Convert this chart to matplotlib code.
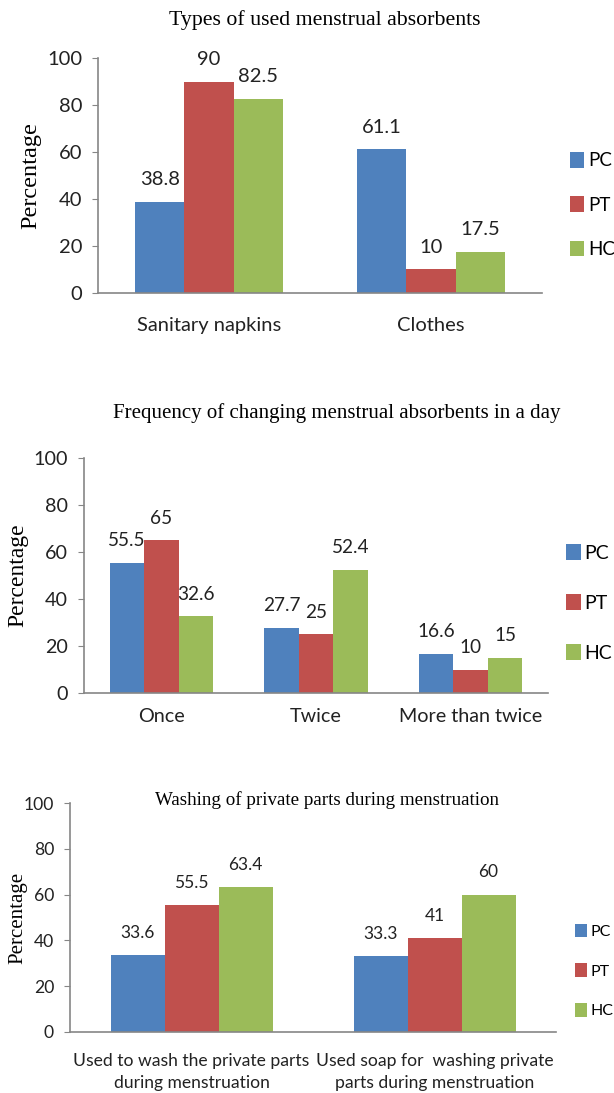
import numpy as np
import matplotlib
matplotlib.use('Agg')
import matplotlib.pyplot as plt

plt.rcParams['font.family'] = ['Lato', 'DejaVu Sans']

series = ['PC', 'PT', 'HC']
colors = ['#4F81BD', '#C0504D', '#9BBB59']

# types of absorbents
cat1 = ['Sanitary napkins', 'Clothes']
pc1 = [38.8, 61.1]
pt1 = [90, 10]
hc1 = [82.5, 17.5]

# changes per day
cat2 = ['Once', 'Twice', 'More than twice']
pc2 = [55.5, 27.7, 16.6]
pt2 = [65, 25, 10]
hc2 = [32.6, 52.4, 15]

# washing
cat3 = ['Used to wash the private parts\nduring menstruation',
        'Used soap for  washing private\nparts during menstruation']
pc3 = [33.6, 33.3]
pt3 = [55.5, 41]
hc3 = [63.4, 60]

W, H = 614, 1093
fig = plt.figure(figsize=(W / 100, H / 100), dpi=100)


def px(x0, y0, x1, y1):
    return [x0 / W, 1 - y1 / H, (x1 - x0) / W, (y1 - y0) / H]


def panel(rect, cats, vals, title, title_xy, title_fs, ylab_x, ylab_fs, fs,
          lab_fs, leg_xy, leg_fs, leg_sp, cat_pad):
    ax = fig.add_axes(rect)
    n = len(cats)
    x = np.arange(n)
    bw = 1 / 4.5
    for i, (v, c, s) in enumerate(zip(vals, colors, series)):
        bars = ax.bar(x + (i - 1) * bw, v, bw, color=c, label=s, linewidth=0)
        for b, val in zip(bars, v):
            ax.annotate(f'{val:g}', (b.get_x() + b.get_width() / 2, val),
                        xytext=(0, 16), textcoords='offset points',
                        ha='center', va='center', fontsize=lab_fs, color='#222222')
    ax.set_xlim(-0.5, n - 0.5)
    ax.set_ylim(0, 100)
    ax.set_yticks(range(0, 101, 20))
    ax.set_xticks(x)
    ax.set_xticklabels(cats, fontsize=fs, color='#222222', linespacing=1.45)
    ax.tick_params(axis='x', length=0, pad=cat_pad)
    ax.tick_params(axis='y', labelsize=fs, labelcolor='#222222', length=4.5,
                   color='#868686', pad=7)
    for s in ['top', 'right']:
        ax.spines[s].set_visible(False)
    for s in ['left', 'bottom']:
        ax.spines[s].set_color('#868686')
        ax.spines[s].set_linewidth(1.2)
    fig.text(title_xy[0] / W, 1 - title_xy[1] / H, title, ha='center', va='center',
             fontsize=title_fs, family='Liberation Serif')
    fig.text(ylab_x / W, rect[1] + rect[3] / 2, 'Percentage', rotation=90,
             ha='center', va='center', fontsize=ylab_fs, family='Liberation Serif')
    ax.legend(loc='center left', bbox_to_anchor=(leg_xy[0] / W, 1 - leg_xy[1] / H),
              bbox_transform=fig.transFigure, frameon=False, fontsize=leg_fs,
              handlelength=0.75, handleheight=0.9, handletextpad=0.2,
              borderpad=0, borderaxespad=0, labelspacing=leg_sp)
    return ax


panel(px(98, 58, 542, 293), cat1, [pc1, pt1, hc1],
      'Types of used menstrual absorbents', (325, 20), 15.75, 31, 17.5,
      14.5, 14.5, (570, 205), 13.5, 1.45, 17)
panel(px(84, 458, 548, 693), cat2, [pc2, pt2, hc2],
      'Frequency of changing menstrual absorbents in a day', (337, 413), 15, 18,
      17, 14.2, 13.7, (566, 603), 14, 1.65, 11)
panel(px(70, 803, 556, 1032), cat3, [pc3, pt3, hc3],
      'Washing of private parts during menstruation', (327, 800), 13.7, 18,
      15, 12.6, 12.5, (575, 971), 11.5, 1.55, 15)

fig.savefig('out.png', dpi=100)
